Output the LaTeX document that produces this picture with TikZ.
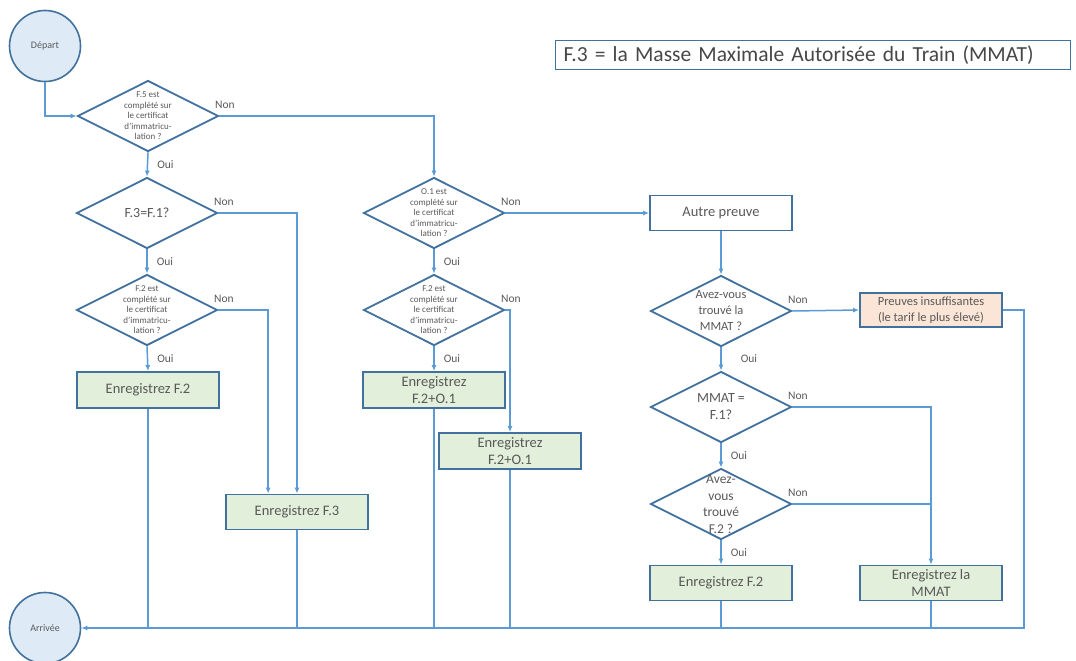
\documentclass[tikz,border=0pt]{standalone}
\usepackage{fontspec}
\setmainfont{Carlito}
\usetikzlibrary{shapes.geometric,arrows.meta,calc}

\definecolor{linkblue}{HTML}{5B9BD5}
\definecolor{edgeblue}{HTML}{41719C}
\definecolor{txtgray}{HTML}{595959}
\definecolor{boxgreen}{HTML}{E2EFDA}
\definecolor{circblue}{HTML}{DEEBF7}
\definecolor{boxpeach}{HTML}{FBE5D6}

\tikzset{
  flow/.style={draw=linkblue, line width=1.5pt},
  >={Latex[length=6pt,width=5pt]},
  terminal/.style={circle, draw=edgeblue, line width=1.6pt, fill=circblue, minimum size=71pt, inner sep=0pt,
    text=txtgray, font=\fontsize{10}{12}\selectfont},
  decision/.style={diamond, draw=edgeblue, line width=1.8pt, fill=white, minimum width=141pt, minimum height=71pt, inner sep=0pt},
  qsmall/.style={align=center, text=txtgray, inner sep=0pt, font=\fontsize{9}{10.5}\selectfont},
  qbig/.style={align=center, text=txtgray, inner sep=0pt, font=\fontsize{14}{17}\selectfont},
  qmid/.style={align=center, text=txtgray, inner sep=0pt, font=\fontsize{12.5}{16}\selectfont},
  action/.style={rectangle, draw=edgeblue, line width=1.8pt, fill=boxgreen, minimum width=142pt, minimum height=36pt,
    inner sep=0pt, align=center, text=txtgray, font=\fontsize{14.5}{17}\selectfont},
  nonlbl/.style={anchor=south west, inner sep=0pt, xshift=-5pt, yshift=7pt, text=txtgray, font=\fontsize{11.5}{13}\selectfont},
  ouilbl/.style={anchor=west, inner sep=0pt, xshift=9pt, text=txtgray, font=\fontsize{11.5}{13}\selectfont},
}

\begin{document}
\begin{tikzpicture}[x=1pt,y=-1pt]
  \useasboundingbox (0,0) rectangle (1076,661);

  % title
  \node[draw=edgeblue, line width=1pt, fill=white, anchor=west, minimum height=29pt, inner xsep=8pt, inner ysep=0pt,
    text width=499pt, align=left, text=txtgray!80!black, font=\fontsize{21.5}{25}\selectfont] (title) at (555,55.5)
    {F.3 = la Masse Maximale Autorisée du Train (MMAT)};

  % start and end
  \node[terminal] (dep) at (45,46) {Départ};
  \node[terminal] (arr) at (45,628) {Arrivée};
  \coordinate (bl) at (1024,628);

  % left column
  \node[decision] (q1) at (148,116) {};
  \node[qsmall] (q1t) at (q1) {F.5 est\\complété sur\\le certificat\\d'immatricu-\\lation ?};
  \node[decision] (q2) at (147,213) {};
  \node[qbig] (q2t) at (q2) {F.3=F.1?};
  \node[decision] (q3) at (147,310) {};
  \node[qsmall] (q3t) at (q3) {F.2 est\\complété sur\\le certificat\\d'immatricu-\\lation ?};
  \node[action] (b1) at (148,390) {Enregistrez F.2};
  \node[action, minimum height=35pt] (b2) at (297,512) {Enregistrez F.3};

  % middle column
  \node[decision] (q4) at (434,213) {};
  \node[qsmall] (q4t) at (q4) {O.1 est\\complété sur\\le certificat\\d'immatricu-\\lation ?};
  \node[decision] (q5) at (434,310) {};
  \node[qsmall] (q5t) at (q5) {F.2 est\\complété sur\\le certificat\\d'immatricu-\\lation ?};
  \node[action] (b3) at (434,390) {Enregistrez\\F.2+O.1};
  \node[action] (b4) at (510,451) {Enregistrez\\F.2+O.1};

  % right column
  \node[action, fill=white, minimum height=35pt] (b5) at (721,213) {Autre preuve};
  \node[decision] (q6) at (721,311) {};
  \node[qmid] (q6t) at (q6) {Avez-vous\\trouvé la\\MMAT ?};
  \node[action, fill=boxpeach, minimum height=34pt, font=\fontsize{12.5}{15.5}\selectfont] (b6) at (931,310)
    {Preuves insuffisantes\\(le tarif le plus élevé)};
  \node[decision] (q7) at (721,407) {};
  \node[qbig] (q7t) at (q7) {MMAT =\\F.1?};
  \node[decision] (q8) at (721,504) {};
  \node[qbig, font=\fontsize{13.5}{16.5}\selectfont] (q8t) at (q8) {Avez-\\vous\\trouvé\\F.2 ?};
  \node[action, minimum height=35pt] (b7) at (721,583) {Enregistrez F.2};
  \node[action, minimum height=35pt] (b8) at (931,583) {Enregistrez la\\MMAT};

  % connectors, left
  \draw[flow,->] (dep.south) |- (q1.west);
  \draw[flow,->] (q1.east) node[nonlbl] {Non} -| (q4.north);
  \draw[flow,->] (q1.south) -- node[ouilbl] {Oui} (q2.north);
  \draw[flow,->] (q2.east) node[nonlbl] {Non} -| (b2.north);
  \draw[flow,->] (q2.south) -- node[ouilbl] {Oui} (q3.north);
  \draw[flow,->] (q3.east) node[nonlbl] {Non} -| ([xshift=43pt]b2.north west);
  \draw[flow,->] (q3.south) -- node[ouilbl] {Oui} (b1.north);

  % connectors, middle
  \draw[flow,->] (q4.east) node[nonlbl] {Non} -- (b5.west);
  \draw[flow,->] (q4.south) -- node[ouilbl] {Oui} (q5.north);
  \draw[flow,->] (q5.east) node[nonlbl] {Non} -| (b4.north);
  \draw[flow,->] (q5.south) -- node[ouilbl] {Oui} (b3.north);

  % connectors, right
  \draw[flow,->] (b5.south) -- (q6.north);
  \draw[flow,->] (q6.east) node[nonlbl] {Non} -- (b6.west);
  \draw[flow,->] (q6.south) -- node[ouilbl, xshift=10pt] {Oui} (q7.north);
  \draw[flow,->] (q7.east) node[nonlbl] {Non} -| (b8.north);
  \draw[flow,->] (q7.south) -- node[ouilbl] {Oui} (q8.north);
  \draw[flow] (q8.east) node[nonlbl] {Non} -- (q8.east -| b8.north);
  \draw[flow,->] (q8.south) -- node[ouilbl] {Oui} (b7.north);

  % down to the end
  \foreach \b in {b1,b2,b3,b4,b7,b8}
    \draw[flow] (\b.south) -- (\b.south |- bl);
  \draw[flow,->] (b6.east) -| (bl) -- (arr.east);

\end{tikzpicture}
\end{document}
